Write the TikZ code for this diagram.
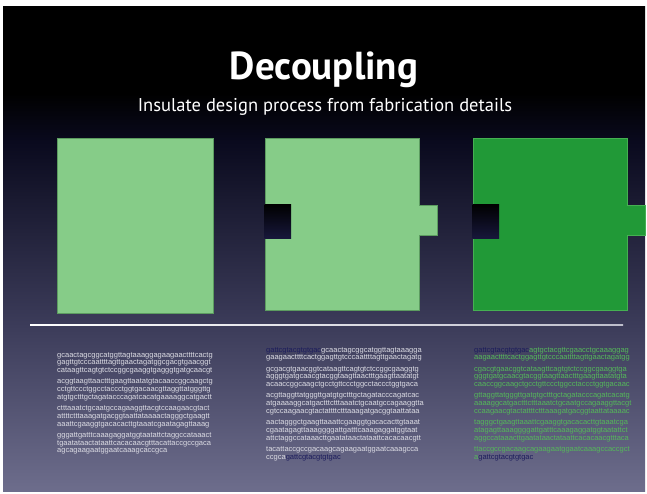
\documentclass[tikz,border=0pt]{standalone}
\usepackage{fontspec}
\setmainfont{PT Sans}
\newfontfamily\seqfont{Liberation Sans}
\usetikzlibrary{positioning}

\definecolor{bgbot}{HTML}{6D6D8C}
\definecolor{bgmid}{HTML}{3C3C5A}
\definecolor{bgdark}{HTML}{0A0A1E}
\definecolor{pale}{HTML}{86CC88}
\definecolor{paleline}{HTML}{5C9C60}
\definecolor{deep}{HTML}{219937}
\definecolor{deepline}{HTML}{45B052}
\definecolor{seqtag}{HTML}{1C1C5C}
\definecolor{seqgray}{HTML}{DCDCE4}
\definecolor{seqgreen}{HTML}{55B85A}
\definecolor{notchbot}{HTML}{17173A}

\pgfdeclareverticalshading{slidebg}{100bp}{color(0bp)=(bgbot); color(25bp)=(bgbot); color(42bp)=(bgmid); color(61bp)=(bgdark); color(66bp)=(black); color(100bp)=(black)}

\begin{document}
\begin{tikzpicture}[x=1pt, y=-1pt,
  piece/.style={fill=pale, draw=paleline, line width=1pt},
  deeppiece/.style={fill=deep, draw=deepline, line width=1pt},
  notch/.style={top color=black, bottom color=notchbot},
  seq/.style={anchor=north west, inner sep=0pt, align=left, text=seqgray,
    font=\seqfont\fontsize{7.5}{7.75}\selectfont}]
\useasboundingbox (0,0) rectangle (647,493);
\fill[white] (0,0) rectangle (647,493);
\shade[shading=slidebg] (3,6) rectangle (645,491);

\node[text=white, font=\bfseries\fontsize{39}{42}\selectfont] (title) at (324,70) {Decoupling};
\node[text=white, font=\fontsize{18.5}{20}\selectfont] (subtitle) at (325,107) {Insulate design process from fabrication details};

% plain part
\draw[piece] (57,138) rectangle (213,313);

% part with connectors
\draw[piece] (265,138) -- (419,138) -- (419,205) -- (437,205) -- (437,235)
  -- (419,235) -- (419,310) -- (265,310) -- cycle;
\shade[notch] (264.5,204) rectangle (291,238);

% fabricated part
\draw[deeppiece] (473,138) -- (627,138) -- (627,205) -- (645,205) -- (645,235)
  -- (627,235) -- (627,310) -- (473,310) -- cycle;
\shade[notch] (472.5,204) rectangle (499,238);

\shade[left color=white, right color=white!55!bgbot] (30,324.2) rectangle (623,325.8);

\node[seq] (seqa) at (57,352) {%
gcaactagcggcatggttagtaaaggagaagaacttttcactg\\
gagttgtcccaattttagttgaactagatggcgacgtgaacggt\\
cataagttcagtgtctccggcgaaggtgagggtgatgcaacgt\\[3.5pt]
acggtaagttaactttgaagttaatatgtacaaccggcaagctg\\
cctgttccctggcctaccctggtgacaacgttaggttatgggttg\\
atgtgctttgctagatacccagatcacatgaaaaggcatgactt\\[3.5pt]
ctttaaatctgcaatgccagaaggttacgtccaagaacgtact\\
attttctttaaagatgacggtaattataaaactagggctgaagtt\\
aaattcgaaggtgacacacttgtaaatcgaatagagttaaag\\[3.5pt]
gggattgatttcaaagaggatggtaatattctaggccataaact\\
tgaatataactataattcacacaacgtttacattaccgccgaca\\
agcagaagaatggaatcaaagcaccgca};

\node[seq] (seqb) at (266,347) {%
\textcolor{seqtag}{gattcgtacgtgtgac}gcaactagcggcatggttagtaaagga\\
gaagaacttttcactggagttgtcccaattttagttgaactagatg\\[3.5pt]
gcgacgtgaacggtcataagttcagtgtctccggcgaaggtg\\
agggtgatgcaacgtacggtaagttaactttgaagttaatatgt\\
acaaccggcaagctgcctgttccctggcctaccctggtgaca\\[3.5pt]
acgttaggttatgggttgatgtgctttgctagatacccagatcac\\
atgaaaaggcatgactttctttaaatctgcaatgccagaaggtta\\
cgtccaagaacgtactattttctttaaagatgacggtaattataa\\[3.5pt]
aactagggctgaagttaaattcgaaggtgacacacttgtaaat\\
cgaatagagttaaaggggattgatttcaaagaggatggtaat\\
attctaggccataaacttgaatataactataattcacacaacgtt\\[3.5pt]
tacattaccgccgacaagcagaagaatggaatcaaagcca\\
ccgca\textcolor{seqtag}{gattcgtacgtgtgac}};

\node[seq, text=seqgreen] (seqc) at (474,347) {%
\textcolor{seqtag}{gattcgtacgtgtgac}agtgctacgttcgaacctgcaaaggag\\
aagaacttttcactggagttgtcccaattttagttgaactagatgg\\[3.5pt]
cgacgtgaacggtcataagttcagtgtctccggcgaaggtga\\
gggtgatgcaacgtacggtaagttaactttgaagttaatatgta\\
caaccggcaagctgcctgttccctggcctaccctggtgacaac\\[3.5pt]
gttaggttatgggttgatgtgctttgctagatacccagatcacatg\\
aaaaggcatgactttctttaaatctgcaatgccagaaggttacgt\\
ccaagaacgtactattttctttaaagatgacggtaattataaaac\\[3.5pt]
tagggctgaagttaaattcgaaggtgacacacttgtaaatcga\\
atagagttaaaggggattgatttcaaagaggatggtaatattct\\
aggccataaacttgaatataactataattcacacaacgtttaca\\[3.5pt]
ttaccgccgacaagcagaagaatggaatcaaagccaccgct\\
a\textcolor{seqtag}{gattcgtacgtgtgac}};
\end{tikzpicture}
\end{document}
